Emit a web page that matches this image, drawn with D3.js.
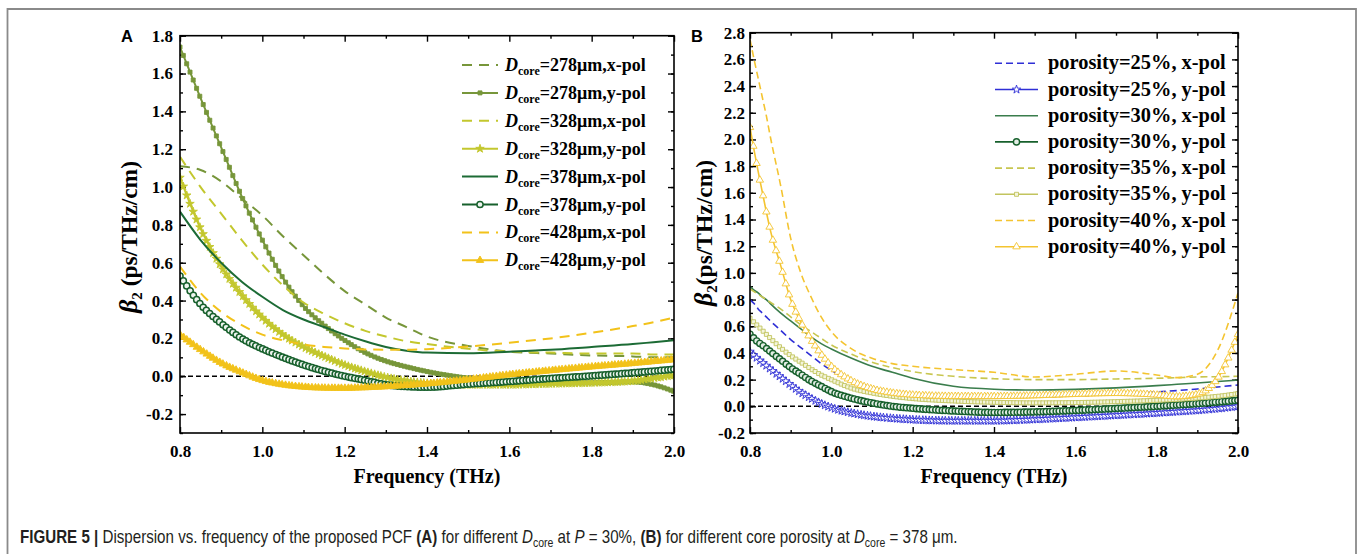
<!DOCTYPE html>
<html>
<head>
<meta charset="utf-8">
<script src="https://cdn.jsdelivr.net/npm/d3@7"></script>
<style>
body { margin: 0; background: #fff; }
svg text { font-family: "Liberation Serif", "Times New Roman", serif; font-weight: bold; }
</style>
</head>
<body>
<svg id="fig" width="1360" height="554"></svg>
<script>
// ---- panel A data (beta2 vs frequency, different D_core) ----
var freqA = [0.8, 0.85, 0.9, 0.95, 1.0, 1.05, 1.1, 1.15, 1.2, 1.25, 1.3, 1.35, 1.4, 1.5, 1.6, 1.7, 1.8, 1.9, 1.95, 2.0];
var d278x = [1.11, 1.09, 1.03, 0.94, 0.85, 0.74, 0.64, 0.54, 0.45, 0.38, 0.31, 0.26, 0.21, 0.16, 0.13, 0.12, 0.11, 0.105, 0.10, 0.10];
var d278y = [1.74, 1.47, 1.21, 0.95, 0.72, 0.52, 0.37, 0.27, 0.19, 0.125, 0.08, 0.05, 0.025, -0.01, -0.03, -0.035, -0.035, -0.03, -0.045, -0.08];
var d328x = [1.16, 1.0, 0.86, 0.72, 0.59, 0.48, 0.39, 0.33, 0.28, 0.24, 0.21, 0.185, 0.17, 0.145, 0.13, 0.125, 0.12, 0.12, 0.115, 0.115];
var d328y = [1.05, 0.78, 0.58, 0.43, 0.31, 0.22, 0.155, 0.105, 0.06, 0.025, -0.005, -0.025, -0.037, -0.045, -0.045, -0.04, -0.035, -0.025, -0.01, 0.005];
var d378x = [0.87, 0.72, 0.6, 0.5, 0.42, 0.35, 0.3, 0.26, 0.22, 0.185, 0.155, 0.135, 0.125, 0.122, 0.13, 0.14, 0.155, 0.17, 0.18, 0.19];
var d378y = [0.53, 0.38, 0.28, 0.2, 0.145, 0.1, 0.06, 0.027, 0.0, -0.022, -0.045, -0.055, -0.058, -0.042, -0.028, -0.012, 0.002, 0.018, 0.027, 0.037];
var d428x = [0.58, 0.44, 0.34, 0.27, 0.22, 0.19, 0.168, 0.155, 0.147, 0.142, 0.14, 0.14, 0.143, 0.157, 0.177, 0.2, 0.23, 0.265, 0.285, 0.31];
var d428y = [0.22, 0.14, 0.07, 0.02, -0.022, -0.045, -0.057, -0.062, -0.063, -0.06, -0.055, -0.048, -0.04, -0.018, 0.008, 0.03, 0.05, 0.068, 0.078, 0.088];
var legendA = ["278", "278", "328", "328", "378", "378", "428", "428"];

// ---- panel B data (different core porosity) ----
var freqB = [0.8, 0.81, 0.82, 0.83, 0.84, 0.85, 0.875, 0.9, 0.925, 0.95, 0.975, 1.0, 1.05, 1.1, 1.15, 1.2, 1.3, 1.4, 1.5, 1.6, 1.7, 1.8, 1.85, 1.9, 1.95, 2.0];
var p25x = [0.8, 0.77, 0.73, 0.7, 0.67, 0.64, 0.57, 0.5, 0.44, 0.38, 0.32, 0.27, 0.195, 0.14, 0.105, 0.088, 0.073, 0.068, 0.07, 0.078, 0.09, 0.108, 0.118, 0.13, 0.145, 0.16];
var p25y = [0.41, 0.38, 0.355, 0.33, 0.305, 0.28, 0.22, 0.16, 0.105, 0.06, 0.02, -0.01, -0.05, -0.075, -0.09, -0.1, -0.108, -0.108, -0.098, -0.083, -0.067, -0.05, -0.04, -0.03, -0.017, 0.0];
var p30x = [0.9, 0.87, 0.85, 0.82, 0.8, 0.77, 0.7, 0.64, 0.58, 0.52, 0.47, 0.43, 0.36, 0.3, 0.255, 0.21, 0.15, 0.128, 0.122, 0.127, 0.138, 0.155, 0.165, 0.175, 0.186, 0.197];
var p30y = [0.54, 0.51, 0.48, 0.46, 0.435, 0.41, 0.35, 0.29, 0.24, 0.19, 0.15, 0.11, 0.06, 0.025, 0.0, -0.015, -0.035, -0.046, -0.042, -0.031, -0.016, 0.0, 0.01, 0.02, 0.032, 0.045];
var p35x = [0.88, 0.86, 0.84, 0.82, 0.8, 0.78, 0.73, 0.67, 0.61, 0.56, 0.51, 0.46, 0.39, 0.33, 0.29, 0.26, 0.225, 0.207, 0.2, 0.2, 0.205, 0.21, 0.215, 0.22, 0.222, 0.225];
var p35y = [0.66, 0.63, 0.6, 0.57, 0.54, 0.51, 0.44, 0.38, 0.33, 0.28, 0.235, 0.2, 0.135, 0.1, 0.075, 0.058, 0.04, 0.03, 0.026, 0.028, 0.035, 0.045, 0.052, 0.062, 0.075, 0.095];
var p40x = [2.75, 2.6, 2.46, 2.32, 2.18, 2.02, 1.66, 1.26, 1.0, 0.82, 0.67, 0.56, 0.43, 0.36, 0.32, 0.3, 0.275, 0.255, 0.22, 0.24, 0.265, 0.235, 0.215, 0.24, 0.42, 0.85];
var p40y = [2.09, 1.92, 1.76, 1.61, 1.46, 1.32, 1.06, 0.8, 0.63, 0.5, 0.39, 0.3, 0.19, 0.13, 0.1, 0.085, 0.075, 0.074, 0.08, 0.09, 0.097, 0.085, 0.072, 0.09, 0.21, 0.54];
var legendB = ["25%", "25%", "30%", "30%", "35%", "35%", "40%", "40%"];

var svg = d3.select("#fig");
var serif = "'Liberation Serif', 'Times New Roman', serif";

// figure frame
svg.append("path")
    .attr("d", "M7.5,560 L7.5,9 L1356,9 L1356,560")
    .attr("fill", "none")
    .attr("stroke", "#8a8a8a")
    .attr("stroke-width", 1.8);

var panelA = {
    id: "A", left: 180, right: 674, top: 35.7, bottom: 433,
    yDomain: [-0.3, 1.8], yMajor: d3.range(-0.2, 1.81, 0.2), yMinor: d3.range(-0.3, 1.81, 0.1),
    freq: freqA, yPad: 7, step: 0.008,
    series: [
        { v: d278x, color: "#77963a", dash: "10,7", w: 2 },
        { v: d278y, color: "#77963a", dash: null, w: 2, marker: "square", fill: "#77963a" },
        { v: d328x, color: "#c3c72e", dash: "10,7", w: 2 },
        { v: d328y, color: "#c3c72e", dash: null, w: 2, marker: "star", fill: "#c3c72e" },
        { v: d378x, color: "#1c6b35", dash: null, w: 2 },
        { v: d378y, color: "#17602c", dash: null, w: 2, marker: "circle", fill: "#eef4ef", mw: 1.5 },
        { v: d428x, color: "#f2c21a", dash: "10,7", w: 2 },
        { v: d428y, color: "#f2c21a", dash: null, w: 2, marker: "triangle", fill: "#f2c21a" }
    ]
};
var panelB = {
    id: "B", left: 750, right: 1238, top: 32.7, bottom: 433,
    yDomain: [-0.2, 2.8], yMajor: d3.range(-0.2, 2.81, 0.2), yMinor: d3.range(-0.2, 2.81, 0.1),
    freq: freqB, yPad: 5, step: 0.008,
    series: [
        { v: p25x, color: "#2f2fd6", dash: "7,4", w: 1.6 },
        { v: p25y, color: "#2f2fd6", dash: null, w: 1.6, marker: "star", fill: "#fff" },
        { v: p30x, color: "#3a7d4c", dash: null, w: 1.6 },
        { v: p30y, color: "#17602c", dash: null, w: 1.6, marker: "circle", fill: "#e3ede5", mw: 1.4 },
        { v: p35x, color: "#c8c650", dash: "7,4", w: 1.6 },
        { v: p35y, color: "#c2c45e", dash: null, w: 1.6, marker: "square", fill: "#f4f5dc" },
        { v: p40x, color: "#f4c430", dash: "7,4", w: 1.6 },
        { v: p40y, color: "#f4c430", dash: null, w: 1.6, marker: "triangle", fill: "#fff" }
    ]
};

var symbolOf = {
    square: d3.symbol().type(d3.symbolSquare).size(16),
    star: d3.symbol().type(d3.symbolStar).size(22),
    circle: d3.symbol().type(d3.symbolCircle).size(30),
    triangle: d3.symbol().type(d3.symbolTriangle).size(24)
};

// pick points on the drawn path at a fixed frequency step
function markerPoints(node, x, step) {
    var len = node.getTotalLength(), samples = [];
    for (var l = 0; l <= len; l += 0.5) samples.push(node.getPointAtLength(l));
    var pts = [], j = 0;
    for (var f = x.domain()[0]; f <= x.domain()[1] + 1e-9; f += step) {
        var px = x(f);
        while (j < samples.length - 1 && samples[j].x < px) j++;
        pts.push(samples[j]);
    }
    return pts;
}

function drawPanel(p) {
    var x = d3.scaleLinear().domain([0.8, 2.0]).range([p.left, p.right]);
    var y = d3.scaleLinear().domain(p.yDomain).range([p.bottom, p.top]);
    var g = svg.append("g");

    g.append("clipPath").attr("id", "clip" + p.id)
        .append("rect").attr("x", p.left).attr("y", p.top)
        .attr("width", p.right - p.left).attr("height", p.bottom - p.top);

    var xMajor = d3.range(0.8, 2.01, 0.2), xMinor = d3.range(0.9, 2.0, 0.2);
    var fmt = function (d) { return d.toFixed(1); };

    var axes = [
        [d3.axisBottom(x).tickValues(xMajor).tickSize(-6).tickPadding(12).tickFormat(fmt), 0, p.bottom],
        [d3.axisBottom(x).tickValues(xMinor).tickSize(-3).tickFormat(""), 0, p.bottom],
        [d3.axisTop(x).tickValues(xMajor).tickSize(-6).tickFormat(""), 0, p.top],
        [d3.axisTop(x).tickValues(xMinor).tickSize(-3).tickFormat(""), 0, p.top],
        [d3.axisLeft(y).tickValues(p.yMajor).tickSize(-6).tickPadding(p.yPad).tickFormat(fmt), p.left, 0],
        [d3.axisLeft(y).tickValues(p.yMinor).tickSize(-3).tickFormat(""), p.left, 0],
        [d3.axisRight(y).tickValues(p.yMajor).tickSize(-6).tickFormat(""), p.right, 0],
        [d3.axisRight(y).tickValues(p.yMinor).tickSize(-3).tickFormat(""), p.right, 0]
    ];
    axes.forEach(function (a) {
        g.append("g")
            .attr("transform", "translate(" + a[1] + "," + a[2] + ")")
            .call(a[0])
            .attr("font-family", serif)
            .attr("font-size", 17)
            .attr("font-weight", "bold");
    });

    g.selectAll(".domain").remove();
    g.selectAll(".tick line").attr("stroke", "#000").attr("stroke-width", 1.4);
    g.selectAll(".tick text").attr("fill", "#000")
        .style("font-family", serif).style("font-size", "17px").style("font-weight", "bold");

    var plot = g.append("g").attr("clip-path", "url(#clip" + p.id + ")");

    // zero reference line
    plot.append("line")
        .attr("x1", p.left).attr("x2", p.right)
        .attr("y1", y(0)).attr("y2", y(0))
        .attr("stroke", "#000").attr("stroke-width", 1.5)
        .attr("stroke-dasharray", "5,3");

    var line = d3.line()
        .x(function (d) { return x(d[0]); })
        .y(function (d) { return y(d[1]); })
        .curve(d3.curveMonotoneX);

    p.series.forEach(function (s) {
        var pts = p.freq.map(function (f, i) { return [f, s.v[i]]; });
        var path = plot.append("path")
            .attr("d", line(pts))
            .attr("fill", "none")
            .attr("stroke", s.color)
            .attr("stroke-width", s.w)
            .attr("stroke-dasharray", s.dash);
        if (s.marker) {
            plot.selectAll(null)
                .data(markerPoints(path.node(), x, p.step))
                .enter().append("path")
                .attr("d", symbolOf[s.marker])
                .attr("transform", function (d) { return "translate(" + d.x + "," + d.y + ")"; })
                .attr("fill", s.fill)
                .attr("stroke", s.color)
                .attr("stroke-width", s.mw || 0.9);
        }
    });

    // frame
    g.append("rect")
        .attr("x", p.left).attr("y", p.top)
        .attr("width", p.right - p.left).attr("height", p.bottom - p.top)
        .attr("fill", "none").attr("stroke", "#000").attr("stroke-width", 1.6);

    // x title
    g.append("text")
        .attr("x", (p.left + p.right) / 2).attr("y", 483)
        .attr("text-anchor", "middle")
        .style("font-size", "20px")
        .text("Frequency (THz)");

    // panel letter
    g.append("text")
        .attr("x", p.id === "A" ? 121 : 691).attr("y", 41.5)
        .style("font-family", "'Liberation Sans', Arial, sans-serif")
        .style("font-size", "16.5px")
        .text(p.id);

    return g;
}

var gA = drawPanel(panelA);
var gB = drawPanel(panelB);

// y titles
function yTitle(g, xPos, yPos, gap) {
    var t = g.append("text")
        .attr("transform", "translate(" + xPos + "," + yPos + ") rotate(-90)")
        .attr("text-anchor", "middle")
        .style("font-size", "23.5px");
    t.append("tspan").style("font-style", "italic").style("font-size", "26px").text("β");
    t.append("tspan").attr("dy", 5).style("font-size", "15px").text("2");
    t.append("tspan").attr("dy", -5).text(gap + "(ps/THz/cm)");
}
yTitle(gA, 137, 237, " ");
yTitle(gB, 712, 233, "");

// legends
function legend(g, p, labels, lx0, lx1, tx, y0, dy, isA) {
    p.series.forEach(function (s, i) {
        var yy = y0 + i * dy;
        g.append("line")
            .attr("x1", lx0).attr("x2", lx1).attr("y1", yy).attr("y2", yy)
            .attr("stroke", s.color).attr("stroke-width", s.w)
            .attr("stroke-dasharray", s.dash);
        if (s.marker) {
            g.append("path")
                .attr("d", symbolOf[s.marker])
                .attr("transform", "translate(" + (lx0 + lx1) / 2 + "," + yy + ")")
                .attr("fill", s.fill).attr("stroke", s.color).attr("stroke-width", s.mw || 0.9);
        }
        var pol = i % 2 === 0 ? "x-pol" : "y-pol";
        var t = g.append("text").attr("x", tx).attr("y", yy + 6).attr("fill", "#000");
        if (isA) {
            t.style("font-size", "18px");
            t.append("tspan").style("font-style", "italic").text("D");
            t.append("tspan").attr("dy", 4).style("font-size", "12px").text("core");
            t.append("tspan").attr("dy", -4).text("=" + labels[i] + "μm," + pol);
        } else {
            t.style("font-size", "20.4px").text("porosity=" + labels[i] + ", " + pol);
        }
    });
}
legend(gA, panelA, legendA, 462, 498, 505, 65, 27.9, true);
legend(gB, panelB, legendB, 995, 1038, 1048, 63.3, 26.2, false);

// caption (narrow sans look: Liberation Sans squeezed horizontally)
var cap = svg.append("text")
    .attr("fill", "#231f20")
    .style("font-family", "'Liberation Sans', Arial, sans-serif")
    .style("font-weight", "normal")
    .style("font-size", "18px");
var parts = [
    ["FIGURE 5 | ", "b"], ["Dispersion vs. frequency of the proposed PCF ", ""], ["(A)", "b"],
    [" for different ", ""], ["D", "i"], ["core", "s"], [" at ", ""], ["P", "i"], [" = 30%, ", ""],
    ["(B)", "b"], [" for different core porosity at ", ""], ["D", "i"], ["core", "s"], [" = 378 μm.", ""]
];
var prevSub = false;
parts.forEach(function (pt) {
    var ts = cap.append("tspan").text(pt[0]);
    if (pt[1] === "b") ts.style("font-weight", "bold");
    if (pt[1] === "i") ts.style("font-style", "italic");
    if (pt[1] === "s") { ts.attr("dy", 4).style("font-size", "12.5px"); prevSub = true; }
    else if (prevSub) { ts.attr("dy", -4); prevSub = false; }
});
var w = cap.node().getComputedTextLength();
cap.attr("transform", "translate(20,543) scale(" + (938 / w) + ",1)");
</script>
</body>
</html>
